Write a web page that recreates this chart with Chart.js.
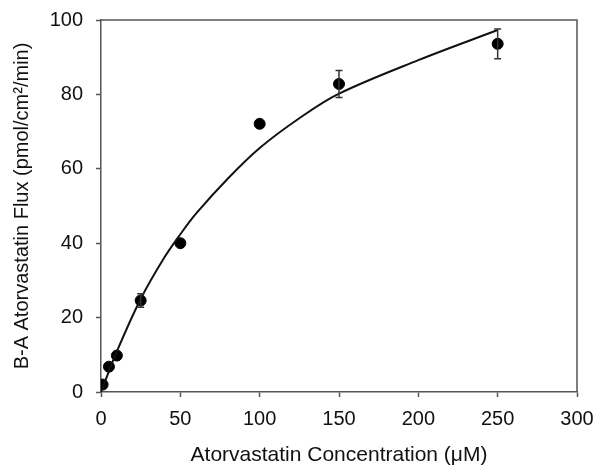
<!DOCTYPE html>
<html>
<head>
<meta charset="utf-8">
<script src="https://cdn.jsdelivr.net/npm/chart.js@4"></script>
<style>
  html, body { margin: 0; padding: 0; background: #fff; }
  #wrap { width: 597px; height: 471px; }
</style>
</head>
<body>
<div id="wrap"><canvas id="fluxChart" width="597" height="471"></canvas></div>
<script>
// measured points (concentration in uM, flux in pmol/cm2/min)
const concentration = [1, 5, 10, 25, 50, 100, 150, 250];
const flux = [2, 6.8, 9.8, 24.6, 40, 72.1, 82.8, 93.6];
const fluxErr = [0, 0, 0, 1.8, 0, 0, 3.6, 4];

// fitted curve
const fitX = [0, 10, 25, 40, 50, 60, 80, 100, 125, 150, 200, 250];
const fitY = [0, 10.9, 25, 36.2, 42.4, 48.0, 57.4, 65.6, 73.6, 80.2, 89.2, 97.3];

const xTicks = [0, 50, 100, 150, 200, 250, 300];
const yTicks = [0, 20, 40, 60, 80, 100];

const AXIS_COLOR = '#555';
const FONT = 'Liberation Sans, Arial, sans-serif';

const errorBars = {
    id: 'errorBars',
    afterDatasetsDraw(chart) {
        const {ctx, scales: {x, y}} = chart;
        ctx.save();
        ctx.strokeStyle = '#333';
        ctx.lineWidth = 1.5;
        concentration.forEach((c, i) => {
            if (!fluxErr[i]) return;
            const px = x.getPixelForValue(c);
            const top = y.getPixelForValue(flux[i] + fluxErr[i]);
            const bot = y.getPixelForValue(flux[i] - fluxErr[i]);
            ctx.beginPath();
            ctx.moveTo(px, top); ctx.lineTo(px, bot);
            ctx.moveTo(px - 3.5, top); ctx.lineTo(px + 3.5, top);
            ctx.moveTo(px - 3.5, bot); ctx.lineTo(px + 3.5, bot);
            ctx.stroke();
        });
        ctx.restore();
    }
};

// top and right edges of the frame
const frame = {
    id: 'frame',
    afterDraw(chart) {
        const {ctx, chartArea: a} = chart;
        ctx.save();
        ctx.strokeStyle = AXIS_COLOR;
        ctx.lineWidth = 1.5;
        ctx.beginPath();
        ctx.moveTo(a.left, a.top); ctx.lineTo(a.right, a.top); ctx.lineTo(a.right, a.bottom);
        ctx.stroke();
        ctx.restore();
    }
};

new Chart(document.getElementById('fluxChart'), {
    type: 'scatter',
    data: {
        datasets: [
            {
                label: 'Fit',
                type: 'line',
                data: fitX.map((v, i) => ({x: v, y: fitY[i]})),
                borderColor: '#111',
                borderWidth: 2,
                pointRadius: 0,
                fill: false,
                tension: 0.35,
            },
            {
                label: 'Flux',
                data: concentration.map((v, i) => ({x: v, y: flux[i]})),
                backgroundColor: '#000',
                borderColor: '#000',
                pointRadius: 5.5,
                pointHoverRadius: 5.5,
            }
        ]
    },
    options: {
        animation: false,
        responsive: false,
        layout: {padding: {top: 20, right: 20, left: 0, bottom: 0}},
        scales: {
            x: {
                type: 'linear',
                min: 0,
                max: 300,
                afterBuildTicks: (s) => { s.ticks = xTicks.map(v => ({value: v})); },
                afterFit: (s) => { s.height = 79; s.paddingLeft = 0; s.paddingRight = 0; },
                grid: {drawOnChartArea: false, drawTicks: true, tickLength: 5, color: AXIS_COLOR, tickWidth: 1.5},
                border: {color: AXIS_COLOR, width: 1.5},
                ticks: {color: '#111', padding: 10, font: {family: FONT, size: 20}},
                title: {
                    display: true,
                    text: 'Atorvastatin Concentration (μM)',
                    color: '#111',
                    font: {family: FONT, size: 21},
                    padding: {top: 0, bottom: 3}
                }
            },
            y: {
                min: 0,
                max: 100,
                afterBuildTicks: (s) => { s.ticks = yTicks.map(v => ({value: v})); },
                afterFit: (s) => { s.width = 101; s.paddingTop = 0; s.paddingBottom = 0; },
                grid: {drawOnChartArea: false, drawTicks: true, tickLength: 5, color: AXIS_COLOR, tickWidth: 1.5},
                border: {color: AXIS_COLOR, width: 1.5},
                ticks: {color: '#111', padding: 13, font: {family: FONT, size: 20}},
                title: {
                    display: true,
                    text: 'B-A Atorvastatin Flux (pmol/cm²/min)',
                    color: '#111',
                    font: {family: FONT, size: 20},
                    padding: {top: 10, bottom: 0}
                }
            }
        },
        plugins: {
            legend: {display: false},
            tooltip: {enabled: false}
        }
    },
    plugins: [errorBars, frame]
});
</script>
</body>
</html>
